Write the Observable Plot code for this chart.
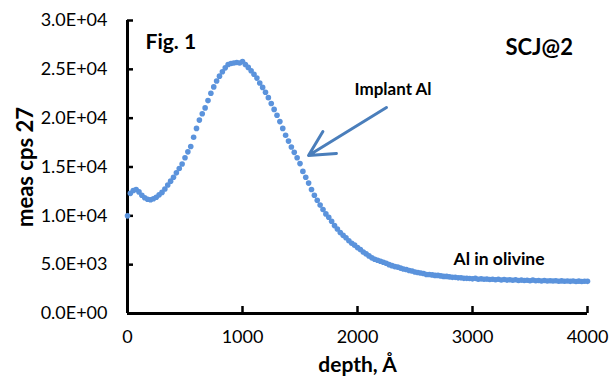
<!DOCTYPE html>
<html><head><meta charset="utf-8">
<script src="https://cdn.jsdelivr.net/npm/d3@7"></script>
<script src="https://cdn.jsdelivr.net/npm/@observablehq/plot@0.6"></script>
<style>body{margin:0;background:#fff} svg{display:block}</style>
</head><body><div id="chart"></div>
<script>
const depth = [0,25,50,75,100,125,150,175,200,225,250,275,300,325,350,375,400,425,450,475,
500,525,550,575,600,625,650,675,700,725,750,775,800,825,850,875,900,925,950,975,
1000,1025,1050,1075,1100,1125,1150,1175,1200,1225,1250,1275,1300,1325,1350,1375,1400,1425,1450,1475,
1500,1525,1550,1575,1600,1625,1650,1675,1700,1725,1750,1775,1800,1825,1850,1875,1900,1925,1950,1975,
2000,2025,2050,2075,2100,2125,2150,2175,2200,2225,2250,2275,2300,2325,2350,2375,2400,2425,2450,2475,
2500,2525,2550,2575,2600,2625,2650,2675,2700,2725,2750,2775,2800,2825,2850,2875,2900,2925,2950,2975,
3000,3025,3050,3075,3100,3125,3150,3175,3200,3225,3250,3275,3300,3325,3350,3375,3400,3425,3450,3475,
3500,3525,3550,3575,3600,3625,3650,3675,3700,3725,3750,3775,3800,3825,3850,3875,3900,3925,3950,3975,4000];
const cps = [10000,12300,12600,12700,12450,12100,11850,11700,11650,11750,11900,12150,12400,12750,13150,13550,13950,14400,14850,15300,
15950,16550,17100,18050,18950,19800,20450,21050,21800,22550,23200,23800,24300,24750,25150,25500,25600,25650,25700,25650,
25800,25500,25200,24850,24500,24100,23600,23150,22650,22100,21500,20900,20300,19650,18950,18250,17650,17050,16500,15950,
15350,14550,13950,13350,12700,12100,11600,11100,10650,10200,9850,9450,9000,8650,8300,8000,7750,7450,7200,7000,
6750,6550,6300,6100,5900,5700,5550,5450,5350,5250,5150,5000,4900,4800,4750,4650,4550,4500,4400,4350,
4250,4200,4150,4100,4000,4000,3950,3900,3900,3850,3800,3800,3750,3700,3700,3650,3650,3600,3600,3580,
3550,3600,3500,3550,3500,3520,3480,3500,3450,3500,3430,3480,3420,3450,3400,3460,3380,3420,3380,3400,
3350,3420,3360,3380,3330,3380,3320,3360,3320,3350,3300,3340,3300,3330,3290,3320,3280,3310,3280,3300,3290];
const xTicks = [0,1000,2000,3000,4000];
const xTickLabels = ["0","1000","2000","3000","4000"];
const yTicks = [0,5000,10000,15000,20000,25000,30000];
const yTickLabels = ["0.0E+00","5.0E+03","1.0E+04","1.5E+04","2.0E+04","2.5E+04","3.0E+04"];

const pts = depth.map((d,i)=>({depth:d, cps:cps[i]}));
const yLab = new Map(yTicks.map((t,i)=>[t,yTickLabels[i]]));
const xLab = new Map(xTicks.map((t,i)=>[t,xTickLabels[i]]));
const FONT = "Lato, 'Open Sans', sans-serif";
const blue = "#5b93dc";

const chart = Plot.plot({
  width: 612, height: 379,
  marginLeft: 127, marginRight: 25, marginTop: 20, marginBottom: 66,
  style: {fontFamily: FONT, color: "black", background: "white"},
  x: {domain: [0,4000]},
  y: {domain: [0,30000]},
  marks: [
    Plot.axisY(yTicks, {anchor:"left", tickSize:6, dx:6, tickFormat:()=>"", label:null, stroke:"black", strokeWidth:2.5}),
    Plot.axisY(yTicks, {anchor:"left", tickSize:0, tickPadding:20, tickFormat:d=>yLab.get(d), label:null, fontSize:18}),
    Plot.axisX(xTicks, {anchor:"bottom", tickSize:7, dy:-7, tickFormat:()=>"", label:null, stroke:"black", strokeWidth:2.5}),
    Plot.axisX(xTicks, {anchor:"bottom", tickSize:0, tickPadding:17, tickFormat:d=>xLab.get(d), label:null, fontSize:18}),
    Plot.ruleX([0], {y1:0, y2:30000, stroke:"black", strokeWidth:3}),
    Plot.ruleY([0], {x1:0, x2:4000, stroke:"black", strokeWidth:3}),
    Plot.dot(pts, {x:"depth", y:"cps", r:2.8, fill:blue, stroke:"none"}),
    Plot.arrow([{x1:2252,y1:21090,x2:1574,y2:16180}], {x1:"x1",y1:"y1",x2:"x2",y2:"y2", stroke:"#4a7ebb", strokeWidth:3, headLength:14, headAngle:55}),
    Plot.text([{x:157,y:27750,t:"Fig. 1"}], {x:"x",y:"y",text:"t", textAnchor:"start", fontWeight:"bold", fontSize:21}),
    Plot.text([{x:3287,y:27230,t:"SCJ@2"}], {x:"x",y:"y",text:"t", textAnchor:"start", fontWeight:"bold", fontSize:22}),
    Plot.text([{x:1974,y:22930,t:"Implant Al"}], {x:"x",y:"y",text:"t", textAnchor:"start", fontWeight:"bold", fontSize:17}),
    Plot.text([{x:2835,y:5530,t:"Al in olivine"}], {x:"x",y:"y",text:"t", textAnchor:"start", fontWeight:"bold", fontSize:17.5}),
    Plot.text([{x:-880,y:15000,t:"meas cps 27"}], {x:"x",y:"y",text:"t", rotate:-90, fontWeight:"bold", fontSize:22, clip:false}),
    Plot.text([{x:2000,y:-5350,t:"depth, Å"}], {x:"x",y:"y",text:"t", fontWeight:"bold", fontSize:21, lineAnchor:"middle", clip:false})
  ]
});
document.getElementById("chart").appendChild(chart);
</script>
</body></html>
